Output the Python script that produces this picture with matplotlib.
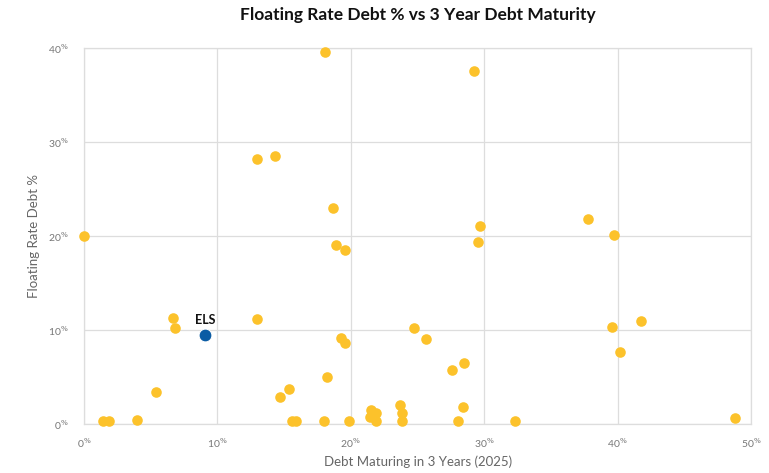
import matplotlib

matplotlib.use("Agg")
import matplotlib.pyplot as plt
from matplotlib.ticker import FuncFormatter

# peers: debt maturing within 3 years (%) vs floating rate debt (%)
peer_maturing = [0.0, 1.4, 1.9, 4.0, 5.4, 6.7, 6.8, 13.0, 14.3, 13.0, 14.7, 15.4,
                 15.6, 15.9, 18.1, 18.7, 18.9, 19.6, 19.3, 19.6, 18.2, 18.0, 19.9,
                 21.5, 21.9, 21.4, 21.9, 23.7, 23.8, 23.8, 24.7, 25.6, 27.6, 28.4,
                 28.5, 28.0, 29.2, 29.7, 29.5, 32.3, 37.8, 39.7, 39.6, 40.2, 41.7,
                 48.8]
peer_floating = [20.0, 0.3, 0.3, 0.4, 3.4, 11.3, 10.2, 28.2, 28.5, 11.2, 2.8, 3.7,
                 0.3, 0.3, 39.5, 23.0, 19.0, 18.5, 9.1, 8.6, 5.0, 0.3, 0.3,
                 1.5, 1.1, 0.7, 0.3, 2.0, 1.2, 0.3, 10.2, 9.0, 5.7, 1.8,
                 6.5, 0.3, 37.5, 21.0, 19.3, 0.3, 21.8, 20.1, 10.3, 7.6, 10.9,
                 0.6]

els_name = "ELS"
els_maturing = 9.1
els_floating = 9.4

x_ticks = [0, 10, 20, 30, 40, 50]
y_ticks = [0, 10, 20, 30, 40]

plt.rcParams["font.family"] = ["Lato", "DejaVu Sans"]

fig = plt.figure(figsize=(7.69, 4.73), dpi=100)
ax = fig.add_axes([0.109, 0.104, 0.868, 0.795])

ax.scatter(peer_maturing, peer_floating, s=58, color="#FCC22B", zorder=3,
           clip_on=False, linewidths=0)
ax.scatter([els_maturing], [els_floating], s=85, color="#0B5CA4", zorder=4,
           clip_on=False, edgecolors="white", linewidths=0.7)
ax.annotate(els_name, (els_maturing, els_floating), xytext=(0, 7),
            textcoords="offset points", ha="center", va="bottom",
            fontsize=9, fontweight="bold", color="#111111")

ax.set_xlim(0, 50)
ax.set_ylim(0, 40)
ax.set_xticks(x_ticks)
ax.set_yticks(y_ticks)
pct = FuncFormatter(lambda v, _: f"{v:.0f}" + r"$^{\%}$")
ax.xaxis.set_major_formatter(pct)
ax.yaxis.set_major_formatter(pct)
ax.tick_params(length=0, labelsize=7.5, colors="#777777")
ax.tick_params(axis="x", pad=9)
ax.tick_params(axis="y", pad=11)

ax.grid(True, color="#dddddd", linewidth=0.9)
ax.set_axisbelow(True)
for side in ax.spines.values():
    side.set_color("#dddddd")
    side.set_linewidth(0.9)

ax.set_xlabel("Debt Maturing in 3 Years (2025)", fontsize=9.5, color="#666666",
              labelpad=4)
ax.set_ylabel("Floating Rate Debt %", fontsize=9.5, color="#666666", labelpad=6)
ax.set_title("Floating Rate Debt % vs 3 Year Debt Maturity", fontsize=12.5,
             fontweight="bold", color="#111111", pad=20)

fig.savefig("out.png", dpi=100)
